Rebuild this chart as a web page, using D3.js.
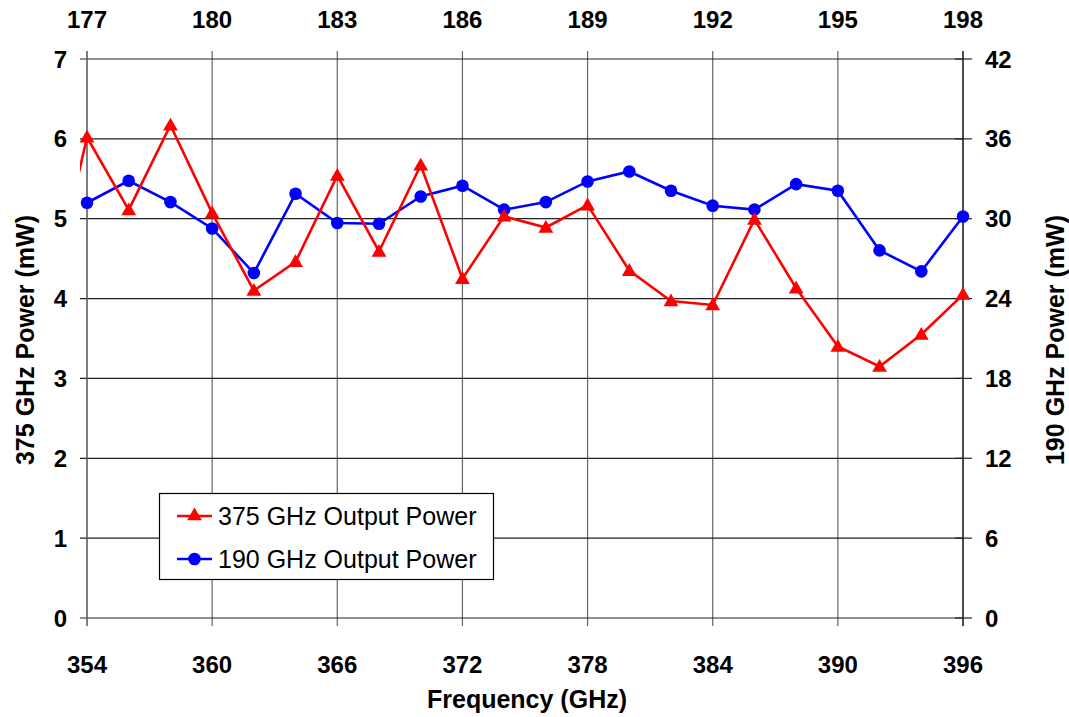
<!DOCTYPE html>
<html>
<head>
<meta charset="utf-8">
<script src="https://cdn.jsdelivr.net/npm/d3@7"></script>
<style>
  html, body { margin: 0; padding: 0; background: #fff; }
  svg { display: block; }
  text { font-family: Arial, "Liberation Sans", sans-serif; }
</style>
</head>
<body>
<svg id="chart" width="1069" height="717"></svg>
<script>
// ---- data ----
const freq375 = [352, 354, 356, 358, 360, 362, 364, 366, 368, 370, 372, 374, 376, 378, 380, 382, 384, 386, 388, 390, 392, 394, 396];
const power375 = [3.75, 6.02, 5.11, 6.17, 5.07, 4.10, 4.46, 5.54, 4.59, 5.67, 4.25, 5.03, 4.89, 5.17, 4.35, 3.97, 3.92, 4.99, 4.13, 3.40, 3.15, 3.55, 4.05];
const freq190 = [354, 356, 358, 360, 362, 364, 366, 368, 370, 372, 374, 376, 378, 380, 382, 384, 386, 388, 390, 392, 394, 396];
const power190 = [31.2, 32.85, 31.25, 29.27, 25.92, 31.88, 29.68, 29.62, 31.67, 32.48, 30.68, 31.25, 32.8, 33.55, 32.1, 30.98, 30.68, 32.6, 32.1, 27.62, 26.04, 30.17];
const bottomTicks = [354, 360, 366, 372, 378, 384, 390, 396];
const topTicks = [177, 180, 183, 186, 189, 192, 195, 198];
const leftTicks = [0, 1, 2, 3, 4, 5, 6, 7];
const rightTicks = [0, 6, 12, 18, 24, 30, 36, 42];
const seriesNames = ["375 GHz Output Power", "190 GHz Output Power"];
const xTitle = "Frequency (GHz)";
const yLeftTitle = "375 GHz Power (mW)";
const yRightTitle = "190 GHz Power (mW)";

// ---- layout ----
const L = 87, R = 963, T = 59, B = 618;
const svg = d3.select("#chart");

const x = d3.scaleLinear().domain([354, 396]).range([L, R]);
const xTop = d3.scaleLinear().domain([177, 198]).range([L, R]);
const yL = d3.scaleLinear().domain([0, 7]).range([B, T]);
const yR = d3.scaleLinear().domain([0, 42]).range([B, T]);

// gridlines
svg.append("g").selectAll("line").data(bottomTicks).join("line")
  .attr("x1", d => x(d)).attr("x2", d => x(d))
  .attr("y1", T - 8).attr("y2", B + 8)
  .attr("stroke", "#666").attr("stroke-width", 1.2);
svg.append("g").selectAll("line").data(leftTicks).join("line")
  .attr("x1", L - 7).attr("x2", R)
  .attr("y1", d => yL(d)).attr("y2", d => yL(d))
  .attr("stroke", "#222").attr("stroke-width", 1.2);
// right ticks
svg.append("g").selectAll("line").data(rightTicks).join("line")
  .attr("x1", R - 8).attr("x2", R + 9)
  .attr("y1", d => yR(d)).attr("y2", d => yR(d))
  .attr("stroke", "#222").attr("stroke-width", 1.2);

// axis frame lines
svg.append("line").attr("x1", L).attr("x2", L).attr("y1", T - 8).attr("y2", B + 8).attr("stroke", "#666").attr("stroke-width", 1.2);
svg.append("line").attr("x1", R).attr("x2", R).attr("y1", T - 8).attr("y2", B + 8).attr("stroke", "#111").attr("stroke-width", 1.2);

// tick labels
const tl = svg.append("g").attr("font-size", 24).attr("font-weight", "bold").attr("fill", "#000");
tl.selectAll(".bt").data(bottomTicks).join("text")
  .attr("x", d => x(d)).attr("y", 673).attr("text-anchor", "middle").text(d => d);
tl.selectAll(".tt").data(topTicks).join("text")
  .attr("x", d => xTop(d)).attr("y", 28).attr("text-anchor", "middle").text(d => d);
tl.selectAll(".lt").data(leftTicks).join("text")
  .attr("x", 67).attr("y", d => yL(d) + 8.5).attr("text-anchor", "end").text(d => d);
tl.selectAll(".rt").data(rightTicks).join("text")
  .attr("x", 985).attr("y", d => yR(d) + 8.5).attr("text-anchor", "start").text(d => d);

// axis titles
const at = svg.append("g").attr("font-size", 25).attr("font-weight", "bold").attr("fill", "#000");
at.append("text").attr("x", (L + R) / 2 + 2).attr("y", 708).attr("text-anchor", "middle").text(xTitle);
at.append("text").attr("transform", "translate(34,340) rotate(-90)").attr("text-anchor", "middle").text(yLeftTitle);
at.append("text").attr("transform", "translate(1064,340) rotate(-90)").attr("text-anchor", "middle").text(yRightTitle);

// clip
svg.append("clipPath").attr("id", "clip").append("rect")
  .attr("x", L - 7).attr("y", 0).attr("width", R - L + 15).attr("height", 717);

const plot = svg.append("g").attr("clip-path", "url(#clip)");

const d375 = freq375.map((f, i) => [f, power375[i]]);
const d190 = freq190.map((f, i) => [f, power190[i]]);

const line375 = d3.line().x(d => x(d[0])).y(d => yL(d[1]));
const line190 = d3.line().x(d => x(d[0])).y(d => yR(d[1]));

plot.append("path").datum(d190).attr("d", line190).attr("fill", "none").attr("stroke", "#0000ff").attr("stroke-width", 2.6);
plot.append("path").datum(d375).attr("d", line375).attr("fill", "none").attr("stroke", "#ff0000").attr("stroke-width", 2.6);

const tri = d3.symbol().type(d3.symbolTriangle).size(95);
plot.selectAll(".c190").data(d190).join("circle")
  .attr("cx", d => x(d[0])).attr("cy", d => yR(d[1])).attr("r", 6.3).attr("fill", "#0000ff");
plot.selectAll(".t375").data(d375).join("path")
  .attr("d", tri).attr("transform", d => `translate(${x(d[0])},${yL(d[1]) + 1})`).attr("fill", "#ff0000");

// legend
const lg = svg.append("g");
lg.append("rect").attr("x", 159.5).attr("y", 493.5).attr("width", 334).attr("height", 86)
  .attr("fill", "#fff").attr("stroke", "#000").attr("stroke-width", 1.2);
const rows = [
  { name: seriesNames[0], color: "#ff0000", kind: "tri", y: 516 },
  { name: seriesNames[1], color: "#0000ff", kind: "circ", y: 559 }
];
rows.forEach(r => {
  lg.append("line").attr("x1", 177).attr("x2", 212).attr("y1", r.y).attr("y2", r.y)
    .attr("stroke", r.color).attr("stroke-width", 2.6);
  if (r.kind === "tri") {
    lg.append("path").attr("d", tri).attr("transform", `translate(194.5,${r.y})`).attr("fill", r.color);
  } else {
    lg.append("circle").attr("cx", 194.5).attr("cy", r.y).attr("r", 6.3).attr("fill", r.color);
  }
  lg.append("text").attr("x", 218).attr("y", r.y + 9).attr("font-size", 25).attr("fill", "#000").text(r.name);
});
</script>
</body>
</html>
